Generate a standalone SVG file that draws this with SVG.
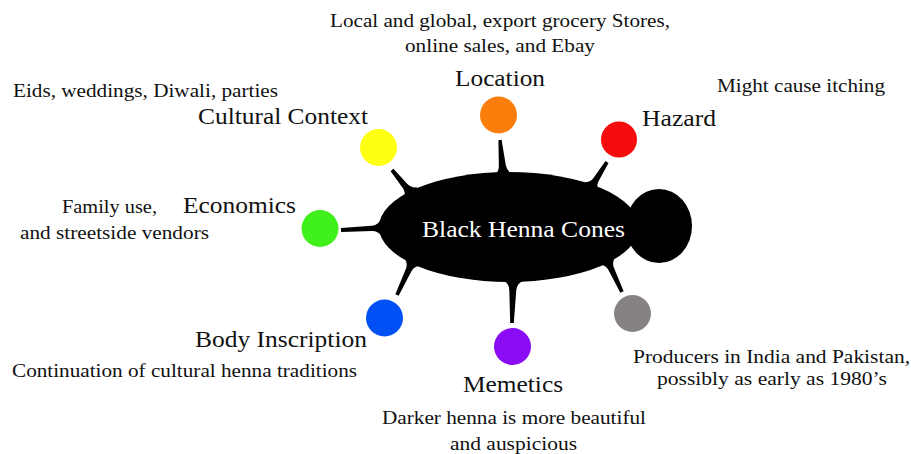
<svg xmlns="http://www.w3.org/2000/svg" width="911" height="454" viewBox="0 0 911 454">
<style>
.t{fill:#111}
.d{font-size:19px}
.l{font-size:24px}
.c{font-size:24px;fill:#fff}
.spike{fill:#000}
</style>
<rect width="911" height="454" fill="#fff"/>
<g id="connectors">
<path class="spike" transform="translate(392,170) rotate(50.7)" d="M0,-1.8 L21,-3 Q26,-3.5 29,-8 L37,-8 L37,8 L29,8 Q26,3.5 21,3 L0,1.8 Z"/>
<path class="spike" transform="translate(500,140) rotate(84.8)" d="M0,-1.6 L26,-3.5 Q31,-4 34,-8 L42,-8 L42,8 L34,8 Q31,4 26,3.5 L0,1.6 Z"/>
<path class="spike" transform="translate(607,162) rotate(122)" d="M0,-1.8 L21,-3 Q26,-3.5 29,-8 L37,-8 L37,8 L29,8 Q26,3.5 21,3 L0,1.8 Z"/>
<path class="spike" transform="translate(341,230) rotate(-3)" d="M0,-2 L31,-2.6 Q37,-3 40,-8 L48,-8 L48,8 L40,8 Q37,3 31,2.6 L0,2 Z"/>
<path class="spike" transform="translate(397,295) rotate(-65)" d="M0,-1.8 L28,-3 Q33,-3.5 36,-8 L44,-8 L44,8 L36,8 Q33,3.5 28,3 L0,1.8 Z"/>
<path class="spike" transform="translate(512,323) rotate(-88.6)" d="M0,-1.8 L33,-3.5 Q39,-4 42,-9 L50,-9 L50,9 L42,9 Q39,4 33,3.5 L0,1.8 Z"/>
<path class="spike" transform="translate(622,292) rotate(-115)" d="M0,-1.8 L26,-3 Q31,-3.5 34,-8 L42,-8 L42,8 L34,8 Q31,3.5 26,3 L0,1.8 Z"/>
</g>
<g font-family="Liberation Serif, serif">
<g id="center">
<ellipse cx="659" cy="226" rx="33" ry="37" fill="#000"/>
<ellipse cx="509" cy="227" rx="130" ry="55" fill="#000"/>
<text class="c" x="422" y="237" textLength="203" lengthAdjust="spacingAndGlyphs">Black Henna Cones</text>
</g>
<g id="location" class="t">
<circle cx="498.5" cy="115" r="18.5" fill="#fb7d0b"/>
<text class="l" x="455" y="86" textLength="90" lengthAdjust="spacingAndGlyphs">Location</text>
<text class="d" x="330" y="27" textLength="340" lengthAdjust="spacingAndGlyphs">Local and global, export grocery Stores,</text>
<text class="d" x="405" y="52" textLength="190" lengthAdjust="spacingAndGlyphs">online sales, and Ebay</text>
</g>
<g id="hazard" class="t">
<circle cx="619" cy="139.5" r="18" fill="#f50d0d"/>
<text class="l" x="642" y="126" textLength="74" lengthAdjust="spacingAndGlyphs">Hazard</text>
<text class="d" x="717" y="92" textLength="168" lengthAdjust="spacingAndGlyphs">Might cause itching</text>
</g>
<g id="cultural-context" class="t">
<circle cx="378.5" cy="147.5" r="18.5" fill="#ffff14"/>
<text class="l" x="198" y="124" textLength="170" lengthAdjust="spacingAndGlyphs">Cultural Context</text>
<text class="d" x="13" y="97" textLength="265" lengthAdjust="spacingAndGlyphs">Eids, weddings, Diwali, parties</text>
</g>
<g id="economics" class="t">
<circle cx="320" cy="228.5" r="18.5" fill="#40f01a"/>
<text class="l" x="183" y="213" textLength="113" lengthAdjust="spacingAndGlyphs">Economics</text>
<text class="d" x="62" y="213" textLength="95" lengthAdjust="spacingAndGlyphs">Family use,</text>
<text class="d" x="20" y="239" textLength="189" lengthAdjust="spacingAndGlyphs">and streetside vendors</text>
</g>
<g id="body-inscription" class="t">
<circle cx="384.5" cy="318" r="18.5" fill="#0050f5"/>
<text class="l" x="195" y="347" textLength="172" lengthAdjust="spacingAndGlyphs">Body Inscription</text>
<text class="d" x="12" y="377" textLength="345" lengthAdjust="spacingAndGlyphs">Continuation of cultural henna traditions</text>
</g>
<g id="memetics" class="t">
<circle cx="512.5" cy="346.5" r="18.5" fill="#8a0cf5"/>
<text class="l" x="463" y="392" textLength="100" lengthAdjust="spacingAndGlyphs">Memetics</text>
<text class="d" x="382" y="424" textLength="264" lengthAdjust="spacingAndGlyphs">Darker henna is more beautiful</text>
<text class="d" x="450" y="450" textLength="127" lengthAdjust="spacingAndGlyphs">and auspicious</text>
</g>
<g id="producers" class="t">
<circle cx="632.5" cy="313.5" r="18.5" fill="#878282"/>
<text class="d" x="633" y="363" textLength="277" lengthAdjust="spacingAndGlyphs">Producers in India and Pakistan,</text>
<text class="d" x="657" y="385" textLength="230" lengthAdjust="spacingAndGlyphs">possibly as early as 1980’s</text>
</g>
</g>
</svg>
